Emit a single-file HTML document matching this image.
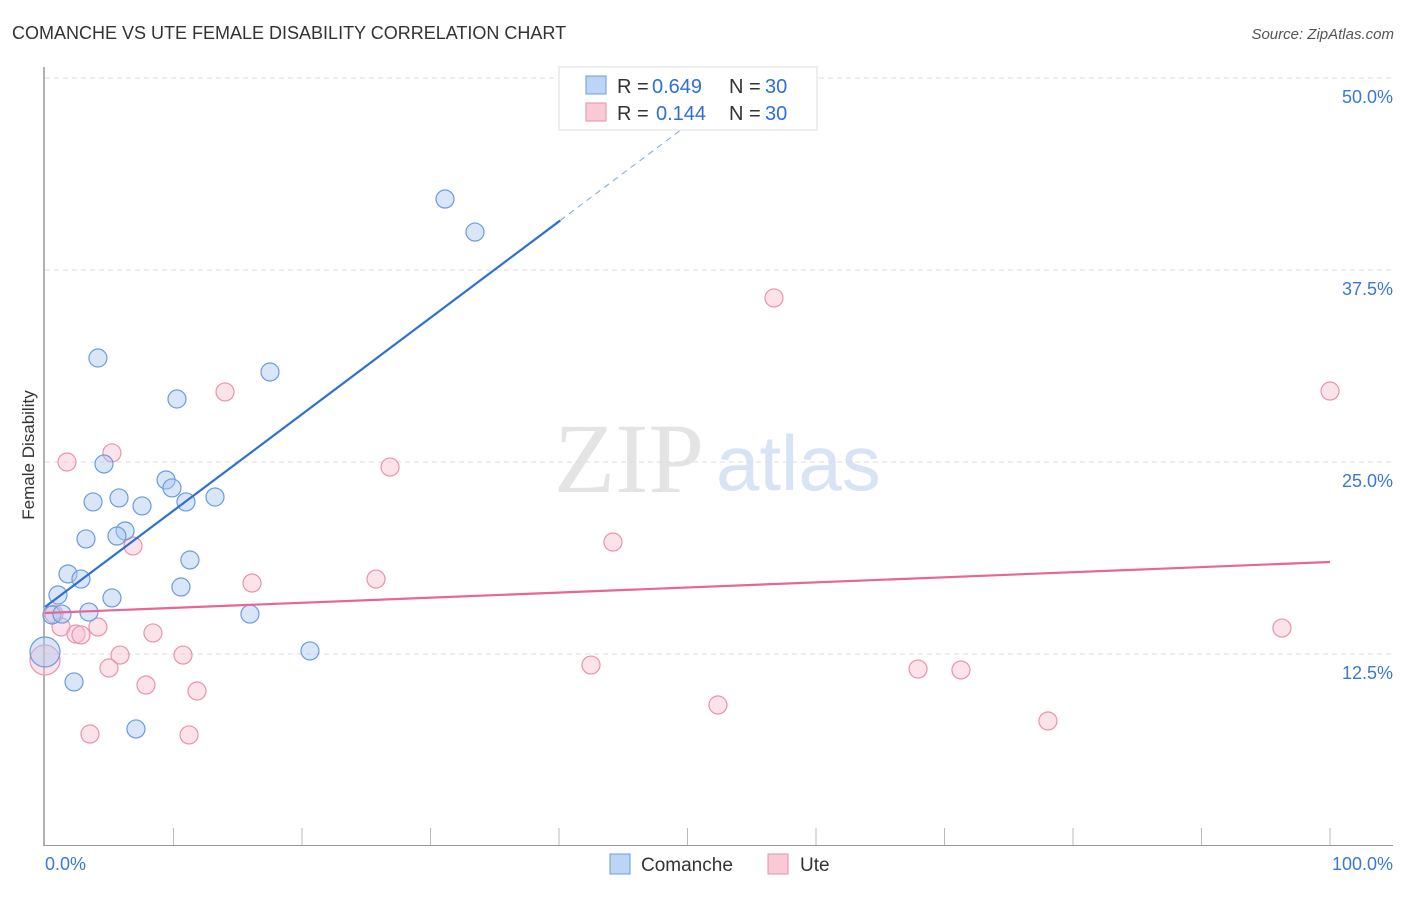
<!DOCTYPE html>
<html><head><meta charset="utf-8"><style>
body{margin:0;background:#fff;font-family:"Liberation Sans",sans-serif;}
svg text{font-family:"Liberation Sans",sans-serif;}
</style></head><body>
<svg id="chart" width="1406" height="892">
<text x="12" y="39" font-size="18" fill="#333">COMANCHE VS UTE FEMALE DISABILITY CORRELATION CHART</text>
<text x="1394" y="39" font-size="15" fill="#555" text-anchor="end" font-style="italic">Source: ZipAtlas.com</text>
<text x="34" y="455" font-size="17" fill="#333" text-anchor="middle" transform="rotate(-90 34 455)">Female Disability</text>
<text x="554" y="492" font-size="100" fill="#e4e4e4" style="font-family:'Liberation Serif',serif">ZIP</text>
<text x="716" y="490" font-size="78" fill="#d6e4f5">atlas</text>
<g id="grid"></g><g id="pts"></g><g id="lines"></g>
<g>
<rect x="559" y="67" width="258" height="63" fill="#fff" stroke="#ddd"/>
<rect x="586" y="76" width="20" height="18" fill="#bcd5f5" stroke="#6a9be0"/>
<text x="617" y="93" font-size="20" fill="#333">R =</text>
<text x="652" y="93" font-size="20" fill="#2f6fd6">0.649</text>
<text x="729" y="93" font-size="20" fill="#333">N =</text>
<text x="765" y="93" font-size="20" fill="#2f6fd6">30</text>
<rect x="586" y="103" width="20" height="18" fill="#f9c9d6" stroke="#e98fa9"/>
<text x="617" y="120" font-size="20" fill="#333">R =</text>
<text x="656" y="120" font-size="20" fill="#2f6fd6">0.144</text>
<text x="729" y="120" font-size="20" fill="#333">N =</text>
<text x="765" y="120" font-size="20" fill="#2f6fd6">30</text>
</g>
<g>
<rect x="610" y="854" width="20" height="20" fill="#bcd5f5" stroke="#6a9be0"/>
<text x="641" y="871" font-size="19" fill="#333">Comanche</text>
<rect x="768" y="854" width="20" height="20" fill="#f9c9d6" stroke="#e98fa9"/>
<text x="800" y="871" font-size="19" fill="#333">Ute</text>
</g>
</svg>
<script>
const yTicks=[12.5,25,37.5,50];
const yTickLabels=["12.5%","25.0%","37.5%","50.0%"];
const blueX=[4.12,31.13,33.46,17.51,10.27,4.59,9.42,9.88,3.74,5.76,7.55,10.97,13.23,6.23,5.60,3.19,11.28,1.79,2.80,10.58,5.21,1.01,0.54,1.32,3.42,15.95,20.62,2.26,7.08,0];
const blueY=[31.77,42.12,39.97,30.86,29.10,24.87,23.83,23.31,22.40,22.66,22.14,22.40,22.72,20.51,20.18,19.99,18.62,17.71,17.38,16.86,16.15,16.34,15.04,15.10,15.23,15.10,12.70,10.68,7.62,12.63];
const pinkX=[56.73,100,14.01,1.71,5.21,26.85,6.85,44.20,25.76,16.11,0.70,1.25,4.12,2.41,2.80,8.40,96.26,5.84,10.74,4.98,42.49,67.94,71.28,7.86,11.83,52.37,78.05,3.50,11.21,0];
const pinkY=[35.68,29.62,29.56,25.00,25.59,24.67,19.53,19.79,17.38,17.12,15.10,14.26,14.26,13.80,13.74,13.87,14.19,12.43,12.43,11.59,11.78,11.52,11.46,10.48,10.09,9.18,8.14,7.29,7.23,12.11];
const blueTrend=[15.56,0.6276];
const pinkTrend=[15.17,0.0332];
const NS="http://www.w3.org/2000/svg";
const X=v=>45+v*12.85, Y=v=>846-v*15.36;
function mk(t,a,p){const e=document.createElementNS(NS,t);for(const k in a)e.setAttribute(k,a[k]);p.appendChild(e);return e;}
const grid=document.getElementById('grid'),pts=document.getElementById('pts'),lines=document.getElementById('lines');
mk('line',{x1:44,y1:67,x2:44,y2:846,stroke:'#999','stroke-width':1.5},grid);
mk('line',{x1:44,y1:845.5,x2:1393,y2:845.5,stroke:'#999','stroke-width':1},grid);
yTicks.forEach((v,i)=>{
 const g=mk('line',{x1:45,y1:Y(v),x2:1393,y2:Y(v),stroke:'#ddd','stroke-dasharray':'5,4'},grid);
 
 
 const t=mk('text',{x:1393,y:Y(v)+25,'font-size':18,fill:'#3a78d8','text-anchor':'end'},grid);t.textContent=yTickLabels[i];
 
 
});
for(let i=1;i<=10;i++){const x=X(i*10);mk('line',{x1:x,y1:828,x2:x,y2:845,stroke:'#bbb'},grid);}
const x0=mk('text',{x:45,y:870,'font-size':18,fill:'#3a78d8'},grid);x0.textContent='0.0%';


const x1=mk('text',{x:1393,y:870,'font-size':18,fill:'#3a78d8','text-anchor':'end'},grid);x1.textContent='100.0%';


function dots(xs,ys,fill,stroke,name){xs.forEach((v,i)=>{
 const r=(v===0)?15:9;
 const c=mk('circle',{cx:X(v),cy:Y(ys[i]),r:r,fill:fill,stroke:stroke,'stroke-width':1.2},pts);
 
 
});}
dots(pinkX,pinkY,'rgba(249,190,207,0.45)','#e993ad','ute-point');
dots(blueX,blueY,'rgba(170,200,240,0.45)','#6a9be0','comanche-point');
const bl=mk('line',{x1:X(0),y1:Y(blueTrend[0]),x2:X(40.1),y2:Y(blueTrend[0]+blueTrend[1]*40.1),stroke:'#2f6fd6','stroke-width':2.2},lines);


const bd=mk('line',{x1:X(40.1),y1:Y(blueTrend[0]+blueTrend[1]*40.1),x2:X(54),y2:Y(blueTrend[0]+blueTrend[1]*54),stroke:'#7aa5e0','stroke-width':1,'stroke-dasharray':'6,5'},lines);


const pl=mk('line',{x1:X(0),y1:Y(pinkTrend[0]),x2:X(100),y2:Y(pinkTrend[0]+pinkTrend[1]*100),stroke:'#e8668f','stroke-width':2.2},lines);


</script>
</body></html>
